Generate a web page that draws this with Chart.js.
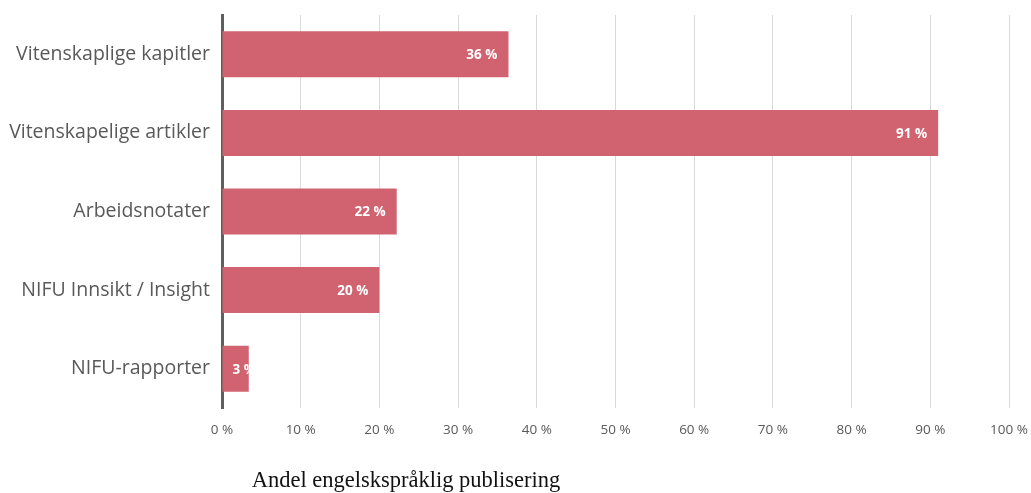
<!DOCTYPE html>
<html>
<head>
<meta charset="utf-8">
<script src="https://cdn.jsdelivr.net/npm/chart.js@4"></script>
<style>
html,body{margin:0;padding:0;background:#fff;}
#wrap{width:1031px;height:493px;position:relative;}
</style>
</head>
<body>
<div id="wrap"><canvas id="c" width="1031" height="493"></canvas></div>
<script>
const categories = ["Vitenskaplige kapitler", "Vitenskapelige artikler", "Arbeidsnotater", "NIFU Innsikt / Insight", "NIFU-rapporter"];
const shareValues = [36.4, 91.0, 22.2, 20.0, 3.4];
const valueLabels = ["36 %", "91 %", "22 %", "20 %", "3 %"];
const axisTitle = "Andel engelskspråklig publisering";

const barLabelPlugin = {
  id: 'barLabels',
  afterDatasetsDraw(chart) {
    const ctx = chart.ctx;
    const meta = chart.getDatasetMeta(0);
    ctx.save();
    ctx.font = 'bold 13.5px "Open Sans"';
    ctx.fillStyle = '#ffffff';
    ctx.textBaseline = 'middle';
    meta.data.forEach((bar, i) => {
      const p = bar.getProps(['x', 'y', 'base', 'height'], true);
      const txt = valueLabels[i];
      const w = ctx.measureText(txt).width;
      ctx.save();
      ctx.beginPath();
      ctx.rect(p.base, p.y - p.height / 2, p.x - p.base, p.height);
      ctx.clip();
      if (p.x - p.base > w + 20) {
        ctx.textAlign = 'right';
        ctx.fillText(txt, p.x - 11, p.y + 1);
      } else {
        ctx.textAlign = 'left';
        ctx.fillText(txt, p.base + 10, p.y + 1);
      }
      ctx.restore();
    });
    ctx.restore();
  }
};

const titlePlugin = {
  id: 'bottomTitle',
  afterDraw(chart) {
    const ctx = chart.ctx;
    ctx.save();
    ctx.font = '22.5px "Liberation Serif"';
    ctx.fillStyle = '#111111';
    ctx.textAlign = 'center';
    ctx.textBaseline = 'middle';
    ctx.fillText(axisTitle, 406, 481);
    ctx.restore();
  }
};

new Chart(document.getElementById('c'), {
  type: 'bar',
  data: {
    labels: categories,
    datasets: [{
      data: shareValues,
      backgroundColor: '#D0636F',
      borderWidth: 0,
      barPercentage: 0.585,
      categoryPercentage: 1.0
    }]
  },
  options: {
    indexAxis: 'y',
    responsive: false,
    animation: false,
    layout: { padding: { left: 0, right: 22, top: 15, bottom: 0 } },
    plugins: { legend: { display: false }, tooltip: { enabled: false } },
    scales: {
      x: {
        min: 0, max: 100,
        afterFit(scale) { scale.height = 85; scale.paddingLeft = 0; scale.paddingRight = 0; },
        ticks: {
          stepSize: 10,
          padding: 14,
          color: '#595959',
          font: { family: '"Open Sans"', size: 13.5 },
          callback: v => v + ' %'
        },
        grid: { color: '#d9d9d9', lineWidth: 1, drawTicks: false },
        border: { display: false }
      },
      y: {
        afterFit(scale) { scale.width = 222; scale.paddingTop = 0; scale.paddingBottom = 0; },
        ticks: {
          padding: 12,
          color: '#595959',
          font: { family: '"Open Sans"', size: 19.5 }
        },
        grid: { display: false, drawTicks: false },
        border: { display: true, color: '#5f5f5f', width: 3 }
      }
    }
  },
  plugins: [barLabelPlugin, titlePlugin]
});
</script>
</body>
</html>
